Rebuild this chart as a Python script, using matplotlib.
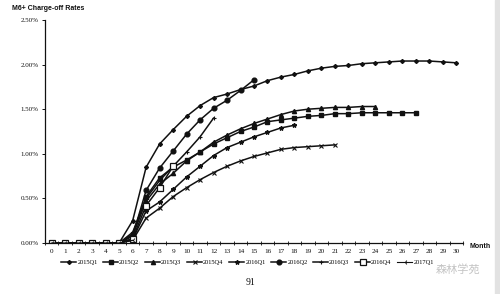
import matplotlib
matplotlib.use("Agg")
import matplotlib.pyplot as plt
from matplotlib.patches import Rectangle

# charge-off rates (%) by vintage, month on book 0..N
months_all = list(range(31))
zeros = [0, 0, 0, 0, 0, 0]

q2015_1 = zeros + [0.25, 0.85, 1.11, 1.27, 1.42, 1.54, 1.63, 1.67, 1.72, 1.76, 1.82, 1.86,
                   1.89, 1.93, 1.96, 1.98, 1.99, 2.01, 2.02, 2.03, 2.04, 2.04, 2.04, 2.03, 2.02]
q2015_2 = zeros + [0.10, 0.52, 0.73, 0.85, 0.93, 1.02, 1.11, 1.18, 1.25, 1.30, 1.36, 1.38,
                   1.40, 1.42, 1.43, 1.45, 1.45, 1.46, 1.46, 1.46, 1.46, 1.46]
q2015_3 = zeros + [0.08, 0.47, 0.66, 0.78, 0.92, 1.02, 1.13, 1.21, 1.28, 1.34, 1.39, 1.44,
                   1.48, 1.50, 1.51, 1.52, 1.52, 1.53, 1.53]
q2015_4 = zeros + [0.03, 0.28, 0.39, 0.52, 0.62, 0.71, 0.79, 0.86, 0.92, 0.97, 1.01, 1.05,
                   1.07, 1.08, 1.09, 1.10]
q2016_1 = zeros + [0.04, 0.36, 0.46, 0.60, 0.74, 0.86, 0.98, 1.07, 1.13, 1.19, 1.24, 1.29, 1.32]
q2016_2 = zeros + [0.08, 0.59, 0.84, 1.03, 1.22, 1.38, 1.51, 1.60, 1.71, 1.83]
q2016_3 = zeros + [0.12, 0.50, 0.70, 0.86, 1.02, 1.19, 1.40]
q2016_4 = zeros + [0.05, 0.42, 0.62, 0.86]
q2017_1 = zeros + [0.03]

series = [
    ("2015Q1", q2015_1, dict(marker="D", ms=2.0)),
    ("2015Q2", q2015_2, dict(marker="s", ms=3.0)),
    ("2015Q3", q2015_3, dict(marker="^", ms=3.0)),
    ("2015Q4", q2015_4, dict(marker="x", ms=3.2, mew=0.8)),
    ("2016Q1", q2016_1, dict(marker="*", ms=3.2)),
    ("2016Q2", q2016_2, dict(marker="o", ms=3.4)),
    ("2016Q3", q2016_3, dict(marker="+", ms=3.2, mew=0.8)),
    ("2016Q4", q2016_4, dict(marker="s", ms=3.8, mfc="white", mew=0.9)),
    ("2017Q1", q2017_1, dict(marker="3", ms=3.5, mew=0.7, lw=0.8)),
]

serif = "Liberation Serif"
ink = "#111111"

fig = plt.figure(figsize=(5.0, 2.94), dpi=100)
ax = fig.add_axes([0.09, 0.1735, 0.836, 0.7585])

for name, vals, style in series:
    st = dict(color=ink, lw=1.1, mec=ink, mfc=ink)
    st.update(style)
    ax.plot(months_all[:len(vals)], vals, label=name, **st)

ax.set_xlim(-0.44, 30.3)
ax.set_ylim(0, 2.5)
ax.spines["top"].set_visible(False)
ax.spines["right"].set_visible(False)
for s in ("left", "bottom"):
    ax.spines[s].set_color(ink)
    ax.spines[s].set_linewidth(0.9)

ax.set_yticks([0, 0.5, 1.0, 1.5, 2.0, 2.5])
ax.set_yticklabels(["0.00%", "0.50%", "1.00%", "1.50%", "2.00%", "2.50%"],
                   fontfamily=serif, fontsize=5)
ax.tick_params(axis="y", length=2.5, width=0.7, pad=2, colors=ink)

ax.set_xticks(months_all)
ax.set_xticklabels([str(m) for m in months_all], fontfamily=serif, fontsize=5.2)
ax.tick_params(axis="x", length=0, pad=4, colors=ink)
ax.set_xticks([m + 0.5 for m in range(-1, 31)], minor=True)
ax.tick_params(axis="x", which="minor", length=2.5, width=0.6, direction="inout", colors=ink)

fig.text(0.024, 0.972, "M6+ Charge-off Rates", fontfamily="Liberation Sans",
         fontweight="bold", fontsize=5, ha="left", va="center", color=ink)
fig.text(0.94, 0.163, "Month", fontfamily="Liberation Sans", fontweight="bold",
         fontsize=5, ha="left", va="center", color=ink)

leg = fig.legend(loc="center", bbox_to_anchor=(0.495, 0.108), ncol=9, frameon=False,
                 prop={"family": serif, "size": 4.6}, handlelength=2.3,
                 columnspacing=0.9, handletextpad=0.2)

fig.text(0.5, 0.04, "91", fontfamily=serif, fontsize=7, ha="center", va="center",
         color=ink)
fig.text(0.915, 0.083, "森林学苑", fontfamily=["Noto Sans CJK SC", "DejaVu Sans"],
         fontsize=8, ha="center", va="center", color="#c4c4c4")

fig.patches.append(Rectangle((0.99, 0), 0.01, 1, transform=fig.transFigure,
                             color="#e2e2e2", zorder=-1))

fig.savefig("out.png", dpi=100)
